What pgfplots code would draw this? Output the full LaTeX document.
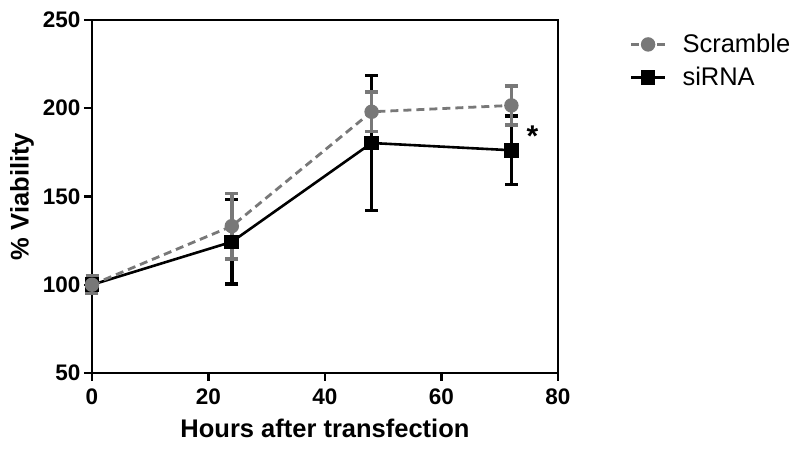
\documentclass[border=0pt]{standalone}
\usepackage{fontspec}
\setmainfont{Liberation Sans}
\usepackage{pgfplots}
\pgfplotsset{compat=1.18}
\definecolor{sgray}{gray}{0.47}
\begin{document}
\begin{tikzpicture}[x=1pt,y=1pt]
\useasboundingbox (0,0) rectangle (800,449);
\begin{axis}[
  at={(92pt,76pt)}, anchor=south west,
  scale only axis, width=466pt, height=353pt,
  xmin=0, xmax=80, ymin=50, ymax=250,
  xtick={0,20,40,60,80}, ytick={50,100,150,200,250},
  xtick pos=bottom, ytick pos=left,
  axis line style={line width=2.4pt},
  tick style={line width=2.4pt, black},
  tick align=outside, major tick length=8pt,
  /pgf/number format/assume math mode=true,
  ticklabel style={font=\bfseries\fontsize{22.5}{22.5}\selectfont},
  xticklabel style={yshift=-4pt},
  xlabel={Hours after transfection}, ylabel={\% Viability},
  label style={font=\bfseries\fontsize{25.5}{25.5}\selectfont},
  xlabel style={at={(axis description cs:0.5,-0.158)}, anchor=center},
  ylabel style={at={(axis description cs:-0.150,0.5)}, anchor=center},
  legend style={at={(axis description cs:1.147,0.971)}, anchor=north west, draw=none, fill=none,
    font=\fontsize{25.5}{25.5}\selectfont, row sep=9pt,
    /tikz/every odd column/.append style={column sep=14pt}},
  legend cell align=left, reverse legend,
  legend image code/.code={\draw[mark repeat=2,mark phase=2,#1] plot coordinates {(0pt,0pt) (17pt,0pt) (34pt,0pt)};},
  clip=false,
]
\addplot[black, line width=2.6pt, mark=square*, mark size=6pt, mark options={solid},
  error bars/.cd, y dir=both, y explicit,
  error bar style={line width=3.5pt, solid, black},
  error mark options={rotate=90, line width=3.5pt, mark size=6.5pt, black, solid}]
  coordinates {(0,100) +- (0,4) (24,124.3) +- (0,24) (48,180.3) +- (0,38.2) (72,176.2) +- (0,19.5)};
\addlegendentry{siRNA}
\addplot[sgray, line width=2.8pt, dash pattern=on 8pt off 5pt, mark=*, mark size=5.8pt, mark options={solid},
  error bars/.cd, y dir=both, y explicit,
  error bar style={line width=3.5pt, solid, sgray},
  error mark options={rotate=90, line width=3.5pt, mark size=6.5pt, sgray, solid}]
  coordinates {(0,100) +- (0,5) (24,133.2) +- (0,18.5) (48,198) +- (0,11.2) (72,201.6) +- (0,11)};
\addlegendentry{Scramble}
\node at (axis cs:75.6,184) {\bfseries\fontsize{30}{30}\selectfont *};
\end{axis}
\end{tikzpicture}
\end{document}
